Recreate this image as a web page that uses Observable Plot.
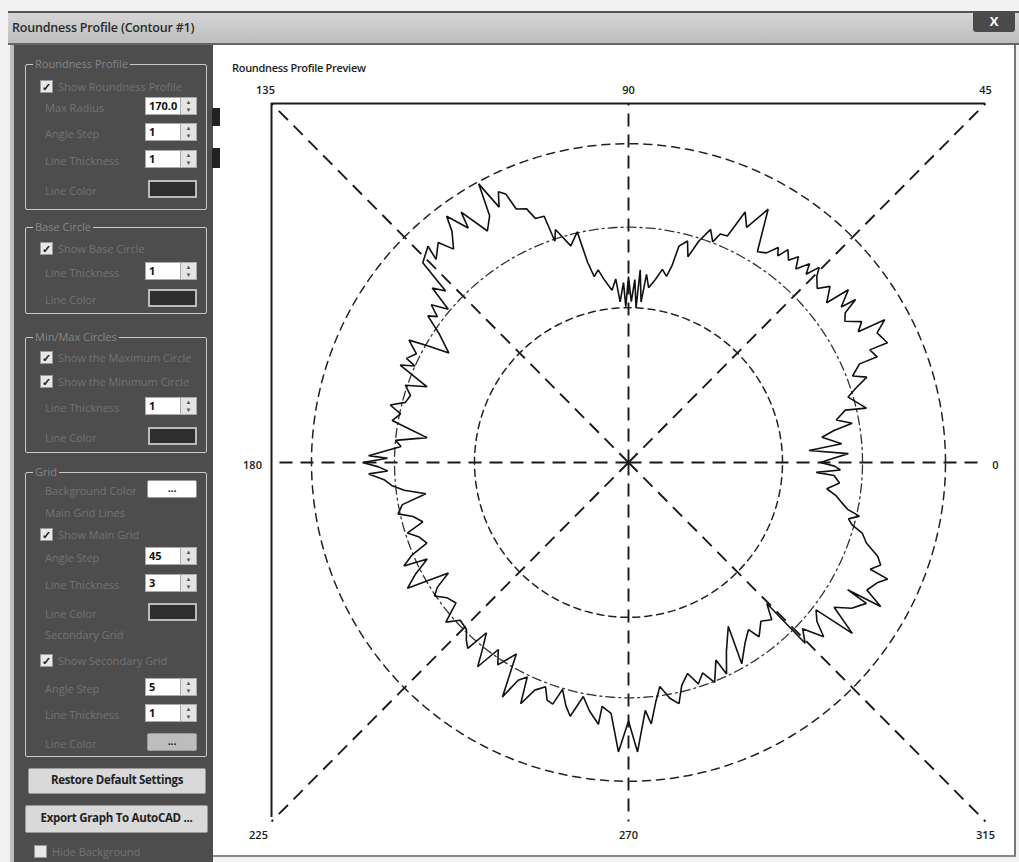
<!DOCTYPE html>
<html><head><meta charset="utf-8">
<script src="https://cdn.jsdelivr.net/npm/d3@7"></script>
<script src="https://cdn.jsdelivr.net/npm/@observablehq/plot@0.6"></script>
<style>
body{margin:0;width:1019px;height:862px;overflow:hidden;background:#f2f2f2;font-family:"Open Sans",sans-serif;position:relative}
.abs{position:absolute;box-sizing:border-box}
#titlebar{left:8px;top:11px;width:1011px;height:34px;background:linear-gradient(#d6d6d6,#bdbdbd);border-top:2px solid #555;border-bottom:2px solid #666}
#titletext{left:12px;top:19px;font-size:12.5px;color:#2a2a2a;font-weight:600;letter-spacing:-0.2px}
#close{left:973px;top:11px;width:42px;height:21px;background:#4a4a4a;border-radius:3px;color:#fff;font-weight:700;font-size:13px;text-align:center;line-height:21px}
#panel{left:10px;top:45px;width:203px;height:817px;background:#4d4d4d;border-left:4px solid #bdbdbd}
#chartbg{left:213px;top:45px;width:803px;height:812px;background:#fff;border-right:2px solid #777;border-bottom:2px solid #888}
.grp{border:1.5px solid #c9c9c9;border-radius:2px}
.gt{font-size:11px;color:#858585;background:#4d4d4d;padding:0 2px;line-height:12px}
.lbl{font-size:11px;color:#737373;line-height:13px;white-space:nowrap}
.inp{background:#fff;border:1px solid #aaa;font-size:11px;font-weight:700;color:#111;padding-left:3px;line-height:16px}
.spin{background:#e4e4e4;border-left:1px solid #aaa;font-size:6px;line-height:8px;text-align:center;color:#555}
.sw{background:#2e2e2e;border:2px solid #bbb}
.btn{background:#d9d9d9;border:1.5px solid #999;border-radius:2px;font-size:11.5px;font-weight:700;color:#222;text-align:center;letter-spacing:-0.3px}
.chk{width:13px;height:13px;background:#e8e8e8;border:1px solid #999;font-size:11px;line-height:11px;color:#222;text-align:center;font-weight:700}
#ptitle{left:232px;top:60px;font-size:11px;font-weight:600;color:#222;letter-spacing:-0.3px}
#chart{left:215px;top:78px}
</style></head><body>
<div class="abs" id="chartbg"></div>
<div class="abs" id="titlebar"></div>
<div class="abs" id="titletext">Roundness Profile (Contour #1)</div>
<div class="abs" id="close">X</div>
<div class="abs" id="panel"></div>
<div class="abs" style="left:212px;top:108px;width:8px;height:18px;background:#222"></div>
<div class="abs" style="left:212px;top:148px;width:8px;height:20px;background:#222"></div>
<div class="abs" id="ptitle">Roundness Profile Preview</div>
<div class="abs" id="chart"></div>
<script>
// ---- data ----
const tickAngles = [0, 45, 90, 135, 180, 225, 270, 315];
const tickLabels = ["0", "45", "90", "135", "180", "225", "270", "315"];
const frameRadius = 357;          // half-size of the preview square
const minCircleRadius = 154;      // minimum circle
const baseCircleRadius = 234;     // base circle
const maxCircleRadius = 317;      // maximum circle

const profileAngle = [
0,1.2,2.3,3.8,5.0,7.4,8.8,9.9,11.5,13.5,12.8,16.5,18,19.6,21,23,22.9,24.9,24.7,27.4,29,29.5,31,33,34.5,35.5,36,38,38.7,41,42.5,44.5,45.5,46.5,47.5,49,50.3,51.5,53,54,55,56.5,58.4,59.5,61,63.2,64.9,66.3,68,69,70.5,72.3,73.8,75,76.8,77.5,78.4,80,81.6,83.4,84.5,85.5,86.5,87.2,88,89,90,91,91.6,93,94,95.5,97.7,99,100.5,101.6,102.6,105,107.5,108.5,109,111,112,114,114.7,115.8,117,118.4,119.5,121.5,123.9,124.5,126.6,127.5,129.5,131,133.6,133,136,137,138.5,139.8,141.5,142.8,144,146,148.8,150,151,153,155,155.8,157,159.5,161,163,165,166.5,168,170,171.5,173,174.6,176,178.5,179,
180,181,182,182.5,184,185.5,187,188.7,190.5,192.5,194,196,197.6,199.5,201.7,203,204.6,205.5,207.5,209.5,211.4,213,214.4,216.5,219,221,223,225.7,227.5,229,230,232,233.4,235,237,239.5,241.6,243,244.6,245.8,247.5,249.6,251,252.5,253.7,255.5,257,259,261,263.4,263.8,266,268,270,271.8,273.9,275,276.5,278,280,281.9,283.5,285.7,287.6,289.5,291.5,294,295,297.5,301.5,299.5,303,305.8,307,310,312.5,314.6,314.5,316.5,318.4,320,322,322.8,325,327,329.5,330,330.4,332,334.3,335.9,336.3,338,339.5,341.4,343.3,344.5,345.7,347,348,349.4,351,352.5,354.5,356.4,357,358,359];
const profileRadius = [
192,205,220,181,214,195,208,227,212,223,244,229,239,253,240,251,270,266,285,280,293,264,272,258,263,279,263,279,254,267,256,264,272,258,268,255,266,257,265,254,261,250,246,262,288,262,275,246,245,235,246,231,213,228,221,200,189,195,184,175,188,160,192,154,182,160,185,155,179,160,183,172,184,194,188,203,235,223,243,232,259,260,272,276,294,299,285,315,282,270,300,283,305,290,275,290,279,294,286,250,262,236,252,240,248,228,210,232,251,238,245,234,248,215,236,228,231,245,233,240,220,203,234,228,260,241,
266,250,241,260,245,238,226,205,230,236,222,214,232,222,217,235,247,223,240,254,211,228,235,226,222,242,230,232,240,245,221,238,253,227,240,221,265,243,236,263,245,238,250,252,235,250,259,237,250,262,244,250,288,257,288,247,261,240,225,238,245,228,218,231,222,235,215,232,212,191,230,214,205,217,206,212,197,252,240,261,246,238,281,251,266,276,253,290,270,276,284,264,272,266,251,244,232,227,237,224,217,210,200,212,206,188,212,206];

// ---- chart ----
const deg = Math.PI / 180;
const X = d => d.r * Math.cos(d.a * deg);
const Y = d => d.r * Math.sin(d.a * deg);
const profile = profileAngle.map((a, i) => ({a, r: profileRadius[i]}));
const ring = R => d3.range(0, 360, 1).map(a => ({a, r: R}));
const edge = a => frameRadius / Math.max(Math.abs(Math.cos(a * deg)), Math.abs(Math.sin(a * deg)));
const spokes = tickAngles.map(a => ({a, r: edge(a)}));
const labels = tickAngles.map((a, i) => ({a, r: edge(a), label: tickLabels[i]}));
const labelOffset = {"0": [10, 3], "45": [0, -13], "90": [0, -13], "135": [-6, -13],
  "180": [-19, 3], "225": [-13, 14], "270": [0, 14], "315": [0, 14]};

const chart = Plot.plot({
  width: 800, height: 784,
  marginLeft: 56, marginRight: 30, marginTop: 25, marginBottom: 41,
  x: {domain: [-frameRadius, frameRadius], axis: null},
  y: {domain: [-frameRadius, frameRadius], axis: null},
  style: {background: "transparent", fontFamily: "Open Sans, sans-serif", fontSize: "11px", overflow: "visible"},
  marks: [
    Plot.ruleY([frameRadius], {stroke: "#1a1a1a", strokeWidth: 2}),
    Plot.ruleX([-frameRadius], {y1: -frameRadius + 4, y2: frameRadius, stroke: "#1a1a1a", strokeWidth: 2}),
    Plot.link(spokes, {x1: 0, y1: 0, x2: X, y2: Y, stroke: "#1a1a1a", strokeWidth: 1.9, strokeDasharray: "13,8"}),
    Plot.line(ring(maxCircleRadius), {x: X, y: Y, curve: "linear-closed", stroke: "#222", strokeWidth: 1.5, strokeDasharray: "8,6"}),
    Plot.line(ring(baseCircleRadius), {x: X, y: Y, curve: "linear-closed", stroke: "#333", strokeWidth: 1.3, strokeDasharray: "9,4,2,4"}),
    Plot.line(ring(minCircleRadius), {x: X, y: Y, curve: "linear-closed", stroke: "#222", strokeWidth: 1.5, strokeDasharray: "7,5"}),
    Plot.line(profile, {x: X, y: Y, curve: "linear-closed", stroke: "#111", strokeWidth: 1.6, strokeLinejoin: "miter"}),
    ...labels.map(l => Plot.text([l], {x: X, y: Y, text: "label", dx: labelOffset[l.label][0], dy: labelOffset[l.label][1],
      fill: "#1a1a1a", fontWeight: 600, fontSize: 11}))
  ]
});
document.getElementById("chart").appendChild(chart);

// ---- settings panel (UI text) ----
const body = document.body;
function el(cls, x, y, w, h, html, extra) {
  const d = document.createElement("div");
  d.className = "abs " + cls;
  d.style.left = x + "px"; d.style.top = y + "px";
  if (w != null) d.style.width = w + "px";
  if (h != null) d.style.height = h + "px";
  if (html != null) d.innerHTML = html;
  if (extra) Object.assign(d.style, extra);
  body.appendChild(d); return d;
}
function group(y, h, title) { el("grp", 25, y, 182, h); el("gt", 33, y - 6, null, null, title); }
function label(y, t) { el("lbl", 45, y, null, null, t); }
function input(y, v) { el("inp", 145, y, 52, 18, v); el("spin", 180, y + 1, 16, 16, "▲<br>▼"); }
function swatch(y) { el("sw", 148, y, 49, 18); }
function chk(x, y, t, on) { el("chk", x, y, null, null, on ? "✓" : ""); el("lbl", x + 18, y, null, null, t); }
function dots(y, light) { el("btn", 147, y, 50, 18, "...", {background: light ? "#bdbdbd" : "#fff", lineHeight: "14px", fontSize: "11px"}); }

group(64, 146, "Roundness Profile");
chk(40, 80, "Show Roundness Profile", true);
label(101, "Max Radius"); input(97, "170.0");
label(127, "Angle Step"); input(123, "1");
label(154, "Line Thickness"); input(150, "1");
label(184, "Line Color"); swatch(180);

group(227, 87, "Base Circle");
chk(40, 242, "Show Base Circle", true);
label(266, "Line Thickness"); input(262, "1");
label(293, "Line Color"); swatch(289);

group(337, 116, "Min/Max Circles");
chk(40, 351, "Show the Maximum Circle", true);
chk(40, 375, "Show the Minimum Circle", true);
label(401, "Line Thickness"); input(397, "1");
label(431, "Line Color"); swatch(427);

group(472, 285, "Grid");
label(484, "Background Color"); dots(480, false);
label(506, "Main Grid Lines");
chk(40, 528, "Show Main Grid", true);
label(551, "Angle Step"); input(547, "45");
label(578, "Line Thickness"); input(574, "3");
label(607, "Line Color"); swatch(603);
label(628, "Secondary Grid");
chk(40, 654, "Show Secondary Grid", true);
label(682, "Angle Step"); input(678, "5");
label(708, "Line Thickness"); input(704, "1");
label(737, "Line Color"); dots(733, true);

el("btn", 28, 768, 178, 26, "Restore Default Settings", {lineHeight: "22px"});
el("btn", 25, 805, 183, 28, "Export Graph To AutoCAD ...", {lineHeight: "24px"});
chk(34, 845, "Hide Background", false);
</script>
</body></html>
